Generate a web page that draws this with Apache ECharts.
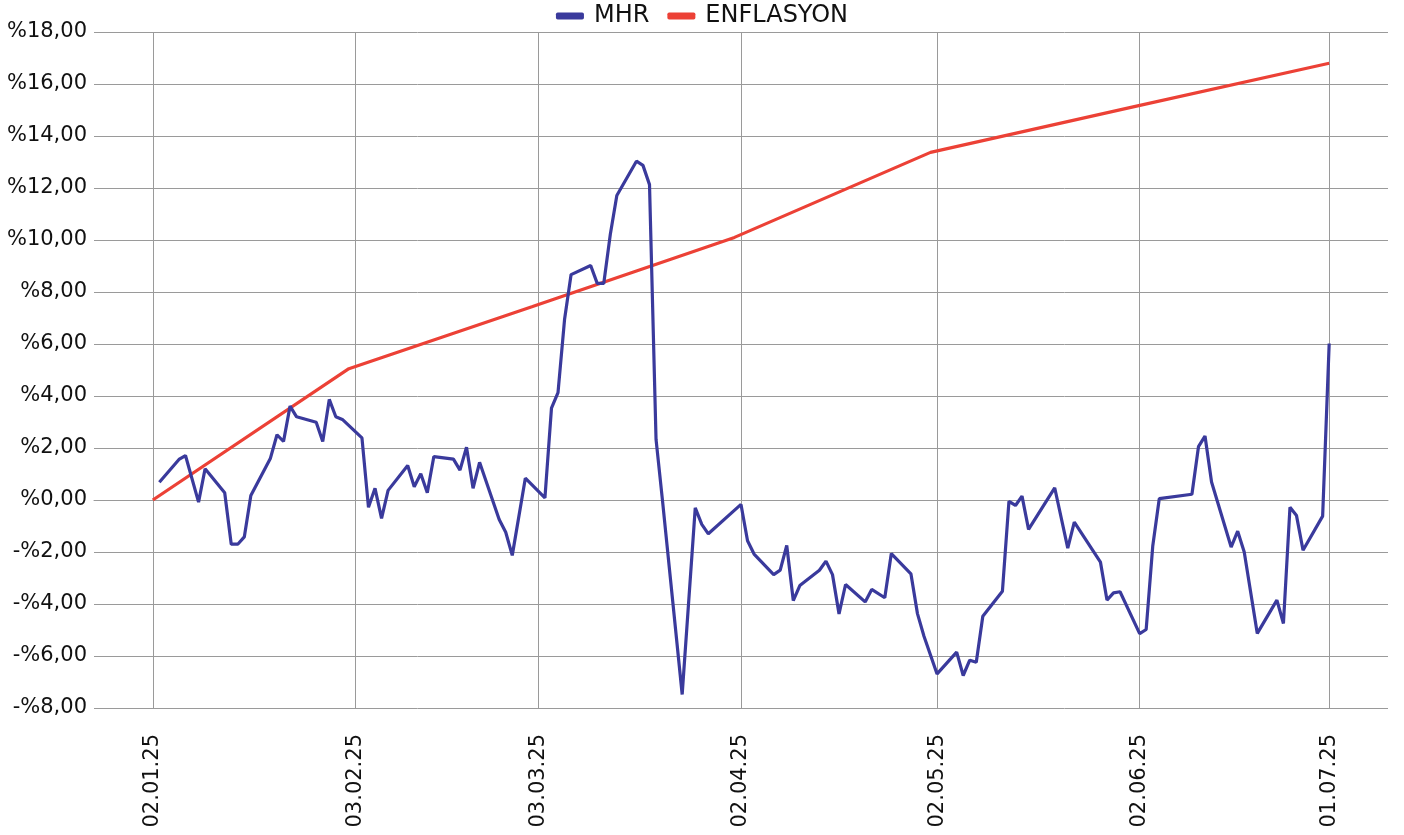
<!DOCTYPE html>
<html>
<head>
<meta charset="utf-8">
<script src="https://cdn.jsdelivr.net/npm/echarts@6/dist/echarts.min.js"></script>
<style>
html,body{margin:0;padding:0;background:#fff;}
#chart{width:1404px;height:835px;}
</style>
</head>
<body>
<div id="chart"></div>
<script>
// Axis range (calendar days shown on the category axis)
const axisStart = '2024-12-24';
const axisEnd = '2025-07-10';
// Tick positions and labels
const tickDates = ['2025-01-02','2025-02-02','2025-03-02','2025-04-02','2025-05-02','2025-06-02','2025-07-01'];
const tickLabels = ['02.01.25','03.02.25','03.03.25','02.04.25','02.05.25','02.06.25','01.07.25'];

// MHR series
const mhrDates = [
 '2025-01-03','2025-01-06','2025-01-07','2025-01-09','2025-01-10','2025-01-13','2025-01-14','2025-01-15','2025-01-16','2025-01-17',
 '2025-01-20','2025-01-21','2025-01-22','2025-01-23','2025-01-24','2025-01-27','2025-01-28','2025-01-29','2025-01-30','2025-01-31',
 '2025-02-03','2025-02-04','2025-02-05','2025-02-06','2025-02-07','2025-02-10','2025-02-11','2025-02-12','2025-02-13','2025-02-14',
 '2025-02-17','2025-02-18','2025-02-19','2025-02-20','2025-02-21','2025-02-24','2025-02-25','2025-02-26','2025-02-28',
 '2025-03-03','2025-03-04','2025-03-05','2025-03-06','2025-03-07','2025-03-10','2025-03-11','2025-03-12','2025-03-13','2025-03-14',
 '2025-03-17','2025-03-18','2025-03-19','2025-03-20','2025-03-21','2025-03-24','2025-03-26','2025-03-27','2025-03-28',
 '2025-04-02','2025-04-03','2025-04-04','2025-04-07','2025-04-08','2025-04-09','2025-04-10','2025-04-11','2025-04-14','2025-04-15',
 '2025-04-16','2025-04-17','2025-04-18','2025-04-21','2025-04-22','2025-04-24','2025-04-25','2025-04-28','2025-04-29','2025-04-30',
 '2025-05-02','2025-05-05','2025-05-06','2025-05-07','2025-05-08','2025-05-09','2025-05-12','2025-05-13','2025-05-14','2025-05-15',
 '2025-05-16','2025-05-20','2025-05-22','2025-05-23','2025-05-27','2025-05-28','2025-05-29','2025-05-30',
 '2025-06-02','2025-06-03','2025-06-04','2025-06-05','2025-06-10','2025-06-11','2025-06-12','2025-06-13','2025-06-16','2025-06-17',
 '2025-06-18','2025-06-20','2025-06-23','2025-06-24','2025-06-25','2025-06-26','2025-06-27','2025-06-30','2025-07-01'
];
const mhrValues = [
 0.68, 1.56, 1.71, -0.08, 1.20, 0.28, -1.70, -1.70, -1.42, 0.17,
 1.61, 2.51, 2.25, 3.61, 3.20, 2.99, 2.25, 3.87, 3.20, 3.10,
 2.39, -0.28, 0.45, -0.71, 0.37, 1.33, 0.51, 1.01, 0.28, 1.67,
 1.57, 1.15, 2.03, 0.45, 1.45, -0.75, -1.24, -2.13, 0.84,
 0.08, 3.53, 4.13, 6.94, 8.67, 9.02, 8.33, 8.33, 10.21, 11.71,
 13.03, 12.87, 12.13, 2.33, -0.05, -7.48, -0.30, -0.94, -1.30,
 -0.17, -1.57, -2.08, -2.87, -2.70, -1.75, -3.87, -3.29, -2.70, -2.35,
 -2.87, -4.38, -3.25, -3.92, -3.44, -3.76, -2.06, -2.84, -4.37, -5.24,
 -6.69, -5.85, -6.75, -6.16, -6.24, -4.47, -3.51, -0.05, -0.21, 0.15,
 -1.13, 0.47, -1.85, -0.85, -2.39, -3.85, -3.57, -3.53,
 -5.14, -4.98, -1.78, 0.05, 0.22, 2.05, 2.46, 0.69, -1.81, -1.20,
 -2.00, -5.13, -3.85, -4.75, -0.28, -0.60, -1.93, -0.62, 6.02
];

// ENFLASYON series (cumulative)
const infDates = ['2025-01-02','2025-02-01','2025-03-01','2025-04-01','2025-05-01','2025-06-01','2025-07-01'];
const infValues = [0, 5.05, 7.43, 10.10, 13.37, 15.12, 16.80];

// ---- build category list of calendar days ----
function fmt(d){
  const m = String(d.getUTCMonth()+1).padStart(2,'0');
  const dd = String(d.getUTCDate()).padStart(2,'0');
  return d.getUTCFullYear()+'-'+m+'-'+dd;
}
const categories = [];
for (let t = Date.parse(axisStart+'T00:00:00Z'); t <= Date.parse(axisEnd+'T00:00:00Z'); t += 86400000) {
  categories.push(fmt(new Date(t)));
}
const isTick = (idx, value) => tickDates.indexOf(value) !== -1;

const FONT = 'DejaVu Sans';
const gridColor = '#9a9a9a';

const chart = echarts.init(document.getElementById('chart'));
chart.setOption({
  animation: false,
  backgroundColor: '#ffffff',
  textStyle: { fontFamily: FONT },
  legend: {
    top: -1,
    left: 'center',
    itemWidth: 28,
    itemHeight: 7,
    itemGap: 18,
    icon: 'roundRect',
    textStyle: { fontFamily: FONT, fontSize: 24, color: '#111', padding: [0, 0, 0, 5] },
    data: ['MHR', 'ENFLASYON']
  },
  grid: { left: 94, right: 16, top: 32, bottom: 127, containLabel: false },
  xAxis: {
    type: 'category',
    data: categories,
    boundaryGap: false,
    axisLine: { show: true, lineStyle: { color: gridColor, width: 1 } },
    axisTick: { show: true, interval: isTick, length: 16, lineStyle: { color: gridColor } },
    splitLine: { show: true, interval: isTick, lineStyle: { color: gridColor, width: 1 } },
    axisLabel: {
      interval: isTick,
      rotate: 90,
      margin: 26,
      fontFamily: FONT,
      fontSize: 21,
      color: '#111',
      formatter: (v) => { const i = tickDates.indexOf(v); return i === -1 ? '' : tickLabels[i]; }
    }
  },
  yAxis: {
    type: 'value',
    min: -8,
    max: 18,
    interval: 2,
    axisLine: { show: false },
    axisTick: { show: false },
    splitLine: { show: true, lineStyle: { color: gridColor, width: 1 } },
    axisLabel: {
      margin: 7,
      fontFamily: FONT,
      fontSize: 21,
      color: '#111',
      formatter: (v) => (v < 0 ? '-%' : '%') + Math.abs(v).toFixed(2).replace('.', ',')
    }
  },
  series: [
    {
      name: 'MHR',
      type: 'line',
      data: mhrDates.map((d, i) => [d, mhrValues[i]]),
      showSymbol: false,
      symbol: 'none',
      lineStyle: { color: '#3a3a9c', width: 3.2 },
      itemStyle: { color: '#3a3a9c' },
      z: 3
    },
    {
      name: 'ENFLASYON',
      type: 'line',
      data: infDates.map((d, i) => [d, infValues[i]]),
      showSymbol: false,
      symbol: 'none',
      lineStyle: { color: '#ec4136', width: 3.2 },
      itemStyle: { color: '#ec4136' },
      z: 2
    }
  ]
});
</script>
</body>
</html>
